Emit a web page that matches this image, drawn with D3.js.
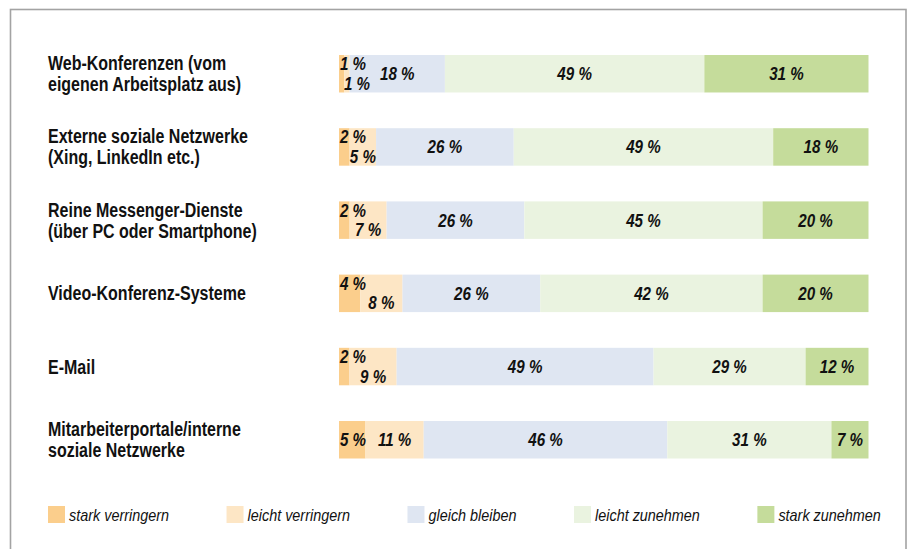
<!DOCTYPE html>
<html><head><meta charset="utf-8">
<script src="https://cdn.jsdelivr.net/npm/d3@7"></script>
<style>body{margin:0;background:#fff}</style>
</head><body><svg id="c" width="909" height="549"></svg>
<script>
const categories = [
  "Web-Konferenzen (vom\neigenen Arbeitsplatz aus)",
  "Externe soziale Netzwerke\n(Xing, LinkedIn etc.)",
  "Reine Messenger-Dienste\n(über PC oder Smartphone)",
  "Video-Konferenz-Systeme",
  "E-Mail",
  "Mitarbeiterportale/interne\nsoziale Netzwerke"
];
const seriesNames = ["stark verringern","leicht verringern","gleich bleiben","leicht zunehmen","stark zunehmen"];
const starkVerringern = [1, 2, 2, 4, 2, 5];
const leichtVerringern = [1, 5, 7, 8, 9, 11];
const gleichBleiben   = [18, 26, 26, 26, 49, 46];
const leichtZunehmen  = [49, 49, 45, 42, 29, 31];
const starkZunehmen   = [31, 18, 20, 20, 12, 7];
const colors = ["#FBCE8C","#FDE6C5","#DFE6F2","#EAF3E0","#C5DC9B"];

const series = [starkVerringern, leichtVerringern, gleichBleiben, leichtZunehmen, starkZunehmen];
const FONT = "'Liberation Sans',Arial,sans-serif";
const SX = 0.82;
const svg = d3.select("#c");
svg.append("rect").attr("width",909).attr("height",549).attr("fill","#fff");
svg.append("rect").attr("x",10.5).attr("y",9.5).attr("width",895.5).attr("height",600)
  .attr("fill","none").attr("stroke","#a3a3a3").attr("stroke-width",1.6);

const y = d3.scaleBand().domain(categories).range([55, 458.5]).paddingInner(0.488).paddingOuter(0);
const fmt = v => v + " %";

categories.forEach((cat, i) => {
  const vals = series.map(s => s[i]);
  const total = d3.sum(vals);
  const x = d3.scaleLinear().domain([0, total]).range([339, 868.5]);
  const cum = d3.cumsum(vals);
  const g = svg.append("g");
  const y0 = y(cat), bh = y.bandwidth(), cy = y0 + bh / 2;
  const segs = vals.map((v, k) => ({v, k, a: cum[k] - v, b: cum[k]}));
  g.selectAll("rect").data(segs).join("rect")
    .attr("x", d => x(d.a)).attr("y", y0)
    .attr("width", d => x(d.b) - x(d.a)).attr("height", bh)
    .attr("fill", d => colors[d.k]);
  const stacked = vals[0] + vals[1] < 15;
  const lx = d => {
    const c = (x(d.a) + x(d.b)) / 2;
    if (d.k === 0) return Math.max(c, x(0) + 14);
    if (d.k === 1 && stacked) return Math.max(c, x(0) + 18);
    return c;
  };
  const ly = d => {
    if (stacked && d.k === 0) return cy - 3.5;
    if (stacked && d.k === 1) return cy + 16;
    return cy + 6.5;
  };
  g.selectAll("text.v").data(segs).join("text").attr("class","v")
    .attr("transform", d => `translate(${lx(d)},${ly(d)}) scale(${SX},1)`)
    .attr("text-anchor","middle")
    .style("font-family", FONT).style("font-size","18.5px")
    .style("font-weight","bold").style("font-style","italic").attr("fill","#111")
    .text(d => fmt(d.v));
  const lines = cat.split("\n");
  const base = lines.length === 1 ? cy + 7 : cy - 3.5;
  const t = g.append("text").attr("transform", `translate(48,${base}) scale(${SX},1)`)
    .style("font-family", FONT).style("font-size","19.5px").style("font-weight","bold").attr("fill","#111");
  lines.forEach((ln, j) => {
    t.append("tspan").attr("x", 0).attr("y", j * 21).text(ln);
  });
});

// legend
const LSX = 0.9;
let lx = 48;
seriesNames.forEach((name, k) => {
  svg.append("rect").attr("x", lx).attr("y", 506).attr("width", 17).attr("height", 17).attr("fill", colors[k]);
  const t = svg.append("text").attr("transform", `translate(${lx + 21},520.7) scale(${LSX},1)`)
    .style("font-family", FONT).style("font-size","16px").style("font-style","italic").attr("fill","#111")
    .text(name);
  lx = lx + 21 + t.node().getComputedTextLength() * LSX + 57.5;
});
</script></body></html>
